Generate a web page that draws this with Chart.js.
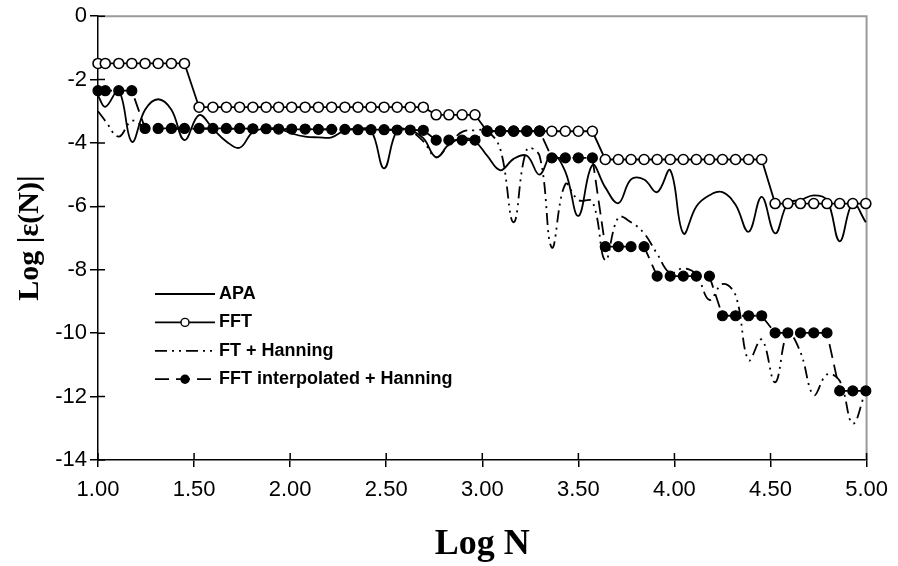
<!DOCTYPE html>
<html><head><meta charset="utf-8">
<script src="https://cdn.jsdelivr.net/npm/chart.js@4/dist/chart.umd.min.js"></script>
<style>html,body{margin:0;padding:0;background:#fff;}#wrap{width:898px;height:566px;}</style>
</head><body><div id="wrap"><canvas id="c" width="898" height="566"></canvas></div>
<script>
// x positions (Log N) of the sampled points
const logN = [1.000,1.038,1.108,1.176,1.245,1.313,1.382,1.450,1.526,1.598,
              1.668,1.737,1.806,1.875,1.940,2.008,2.078,2.147,2.216,2.285,
              2.353,2.421,2.489,2.557,2.625,2.693,2.760,2.826,2.895,2.962,
              3.025,3.094,3.163,3.232,3.298,3.362,3.432,3.500,3.573,3.640,
              3.708,3.774,3.842,3.910,3.978,4.046,4.114,4.182,4.250,4.318,
              4.386,4.454,4.524,4.590,4.656,4.725,4.794,4.860,4.928,4.996];

const apa = [-2.50,-2.86,-2.35,-3.96,-2.95,-2.62,-2.95,-3.91,-3.12,-3.55,
             -3.95,-4.15,-3.65,-3.55,-3.55,-3.70,-3.80,-3.82,-3.82,-3.60,
             -3.55,-3.60,-4.80,-3.60,-3.60,-3.85,-4.45,-4.05,-3.85,-3.95,
             -4.40,-4.86,-4.50,-4.40,-5.00,-4.35,-4.90,-6.30,-4.70,-5.40,
             -5.90,-5.15,-5.15,-5.55,-4.86,-6.85,-6.00,-5.65,-5.55,-5.95,
             -6.80,-5.70,-6.85,-5.90,-5.80,-5.65,-5.80,-7.10,-5.90,-6.50];

const fft = [-1.49,-1.49,-1.49,-1.49,-1.49,-1.49,-1.49,-1.49,-2.87,-2.87,
             -2.87,-2.87,-2.87,-2.87,-2.87,-2.87,-2.87,-2.87,-2.87,-2.87,
             -2.87,-2.87,-2.87,-2.87,-2.87,-2.87,-3.11,-3.11,-3.11,-3.11,
             -3.63,-3.63,-3.63,-3.63,-3.63,-3.63,-3.63,-3.63,-3.63,-4.52,
             -4.52,-4.52,-4.52,-4.52,-4.52,-4.52,-4.52,-4.52,-4.52,-4.52,
             -4.52,-4.52,-5.91,-5.91,-5.91,-5.91,-5.91,-5.91,-5.91,-5.91];

const ftHanning = [-3.00,-3.30,-3.80,-3.30,-3.50,-3.55,-3.55,-3.55,-3.55,-3.55,
                   -3.55,-3.55,-3.55,-3.55,-3.57,-3.57,-3.57,-3.57,-3.57,-3.57,
                   -3.57,-3.58,-3.58,-3.58,-3.62,-3.95,-4.45,-4.05,-3.65,-3.60,
                   -3.62,-4.20,-6.50,-4.20,-4.40,-7.30,-5.30,-5.80,-5.85,-7.70,
                   -6.35,-6.50,-6.85,-7.50,-8.10,-7.95,-8.15,-8.95,-8.45,-8.80,
                   -10.85,-10.20,-11.55,-10.00,-10.60,-11.95,-11.30,-11.50,-12.85,-11.80];

const fftInterpHanning = [-2.35,-2.35,-2.35,-2.35,-3.54,-3.54,-3.54,-3.54,-3.54,-3.54,
                          -3.54,-3.54,-3.55,-3.55,-3.56,-3.56,-3.56,-3.57,-3.57,-3.57,
                          -3.58,-3.58,-3.58,-3.59,-3.59,-3.60,-3.91,-3.91,-3.91,-3.91,
                          -3.62,-3.62,-3.62,-3.62,-3.62,-4.47,-4.47,-4.47,-4.47,-7.27,
                          -7.27,-7.27,-7.27,-8.20,-8.20,-8.20,-8.20,-8.20,-9.45,-9.45,
                          -9.45,-9.45,-9.99,-9.99,-9.99,-9.99,-9.99,-11.82,-11.82,-11.82];

const seriesNames = ['APA','FFT','FT + Hanning','FFT interpolated + Hanning'];
const xTickValues = [1.0,1.5,2.0,2.5,3.0,3.5,4.0,4.5,5.0];
const yTickValues = [0,-2,-4,-6,-8,-10,-12,-14];
const xTitle = 'Log N';
const yTitle = 'Log |ε(N)|';

const tickFont = {family:"'Liberation Sans', Arial, sans-serif", size:22};
const legendFont = "bold 18px 'Liberation Sans', Arial, sans-serif";
const serif = "'Liberation Serif', 'Times New Roman', serif";

const pts = arr => arr.map((v,i)=>({x:logN[i], y:v}));

const datasets = [
  {label:seriesNames[0], data:pts(apa), borderColor:'#000', borderWidth:1.8, pointRadius:0, tension:0.4, order:4, clip:12},
  {label:seriesNames[1], data:pts(fft), borderColor:'#000', borderWidth:1.8, pointRadius:5, pointStyle:'circle',
   pointBackgroundColor:'#fff', pointBorderColor:'#000', pointBorderWidth:1.6, tension:0, order:2, clip:12},
  {label:seriesNames[2], data:pts(ftHanning), borderColor:'#000', borderWidth:1.8, borderDash:[12,5,2,5,2,5], pointRadius:0, tension:0.4, order:3, clip:12},
  {label:seriesNames[3], data:pts(fftInterpHanning), borderColor:'#000', borderWidth:1.8, borderDash:[14,7], pointRadius:5, pointStyle:'circle',
   pointBackgroundColor:'#000', pointBorderColor:'#000', pointBorderWidth:1.2, tension:0, order:1, clip:12}
];

const decor = {
  id:'decor',
  beforeDatasetsDraw(chart){
    const {ctx, chartArea:a, scales:{x,y}} = chart;
    ctx.save();
    ctx.strokeStyle = '#9a9a9a'; ctx.lineWidth = 2;
    ctx.beginPath(); ctx.moveTo(a.left, a.top); ctx.lineTo(a.right, a.top); ctx.lineTo(a.right, a.bottom); ctx.stroke();
    ctx.strokeStyle = '#000'; ctx.lineWidth = 1.5;
    ctx.beginPath();
    x.ticks.forEach(t=>{const p=x.getPixelForValue(t.value); ctx.moveTo(p, a.bottom); ctx.lineTo(p, a.bottom-7);});
    y.ticks.forEach(t=>{const p=y.getPixelForValue(t.value); ctx.moveTo(a.left, p); ctx.lineTo(a.left+7, p);});
    ctx.stroke();
    ctx.restore();
  },
  afterDatasetsDraw(chart){
    const {ctx} = chart;
    ctx.save();
    chart.data.datasets.forEach((ds,i)=>{
      const yy = 294 + i*28.4;
      ctx.strokeStyle = ds.borderColor; ctx.lineWidth = ds.borderWidth;
      ctx.setLineDash(ds.borderDash || []);
      ctx.beginPath(); ctx.moveTo(155, yy); ctx.lineTo(215, yy); ctx.stroke();
      ctx.setLineDash([]);
      if (ds.pointRadius > 0){
        ctx.beginPath(); ctx.arc(185, yy, 4, 0, Math.PI*2);
        ctx.fillStyle = ds.pointBackgroundColor; ctx.fill();
        ctx.lineWidth = 1.4; ctx.strokeStyle = ds.pointBorderColor; ctx.stroke();
      }
      ctx.fillStyle = '#000';
      ctx.font = legendFont;
      ctx.textBaseline = 'middle'; ctx.textAlign = 'left';
      ctx.fillText(ds.label, 219, yy);
    });
    ctx.restore();
  }
};

new Chart(document.getElementById('c'), {
  type:'line',
  data:{datasets},
  options:{
    responsive:false, animation:false, devicePixelRatio:1,
    layout:{padding:{top:16, right:29, left:0, bottom:0}},
    plugins:{legend:{display:false}, tooltip:{enabled:false}},
    scales:{
      x:{type:'linear', min:1, max:5,
         afterBuildTicks:s=>{s.ticks = xTickValues.map(v=>({value:v}));},
         afterFit:s=>{s.height = 106;},
         grid:{drawOnChartArea:false, drawTicks:true, tickLength:7, color:'#000', lineWidth:1.5},
         border:{display:true, color:'#000', width:1.5},
         ticks:{color:'#000', padding:10, maxRotation:0, autoSkip:false, font:tickFont, callback:v=>Number(v).toFixed(2)},
         title:{display:true, text:xTitle, color:'#000', font:{family:serif, size:36, weight:'bold'}, padding:{top:0,bottom:0}}
      },
      y:{type:'linear', min:-14, max:0,
         afterBuildTicks:s=>{s.ticks = yTickValues.map(v=>({value:v}));},
         afterFit:s=>{s.width = 98;},
         grid:{drawOnChartArea:false, drawTicks:true, tickLength:8, color:'#000', lineWidth:1.5},
         border:{display:true, color:'#000', width:1.5},
         ticks:{color:'#000', padding:3, autoSkip:false, font:tickFont, callback:v=>String(v)},
         title:{display:true, text:yTitle, color:'#000', font:{family:serif, size:30, weight:'bold'}, padding:{top:12,bottom:0}}
      }
    }
  },
  plugins:[decor]
});
</script></body></html>
